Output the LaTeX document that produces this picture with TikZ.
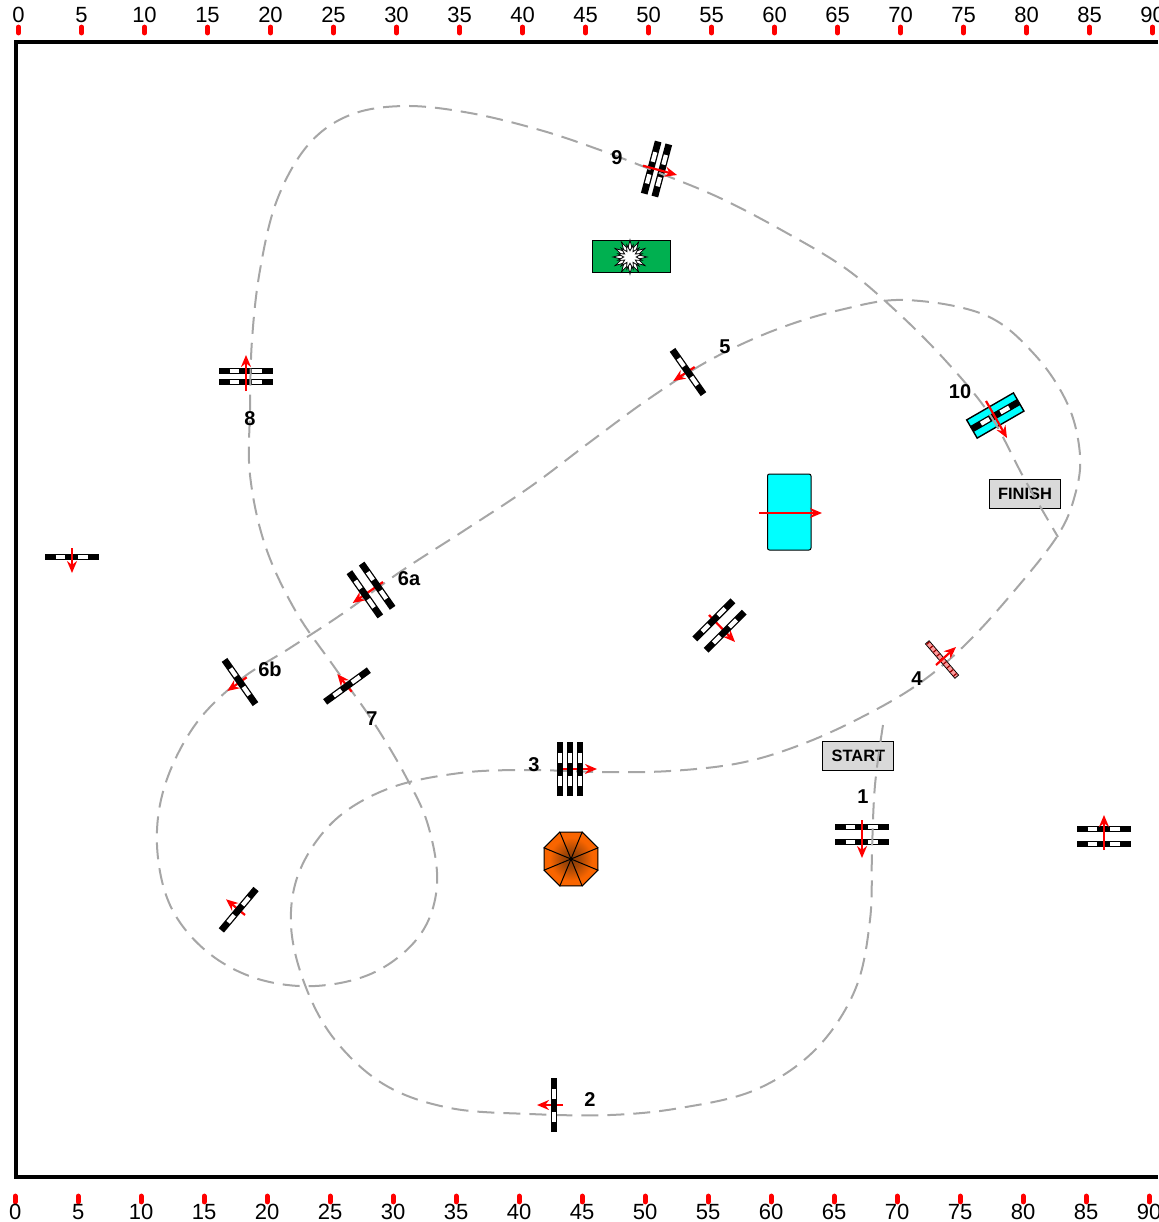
\documentclass[tikz,border=0pt]{standalone}
\usepackage{fontspec}
\setmainfont{Liberation Sans}
\usetikzlibrary{arrows.meta, shapes.geometric}
\definecolor{tracegray}{HTML}{A6A6A6}
\definecolor{boxgray}{HTML}{D9D9D9}
\definecolor{padgreen}{HTML}{00B050}
\definecolor{gatepink}{HTML}{FF9999}
\definecolor{gatecyan}{HTML}{00FFFF}
\definecolor{conedark}{HTML}{803A08}
\definecolor{coneorange}{HTML}{F96500}
\pgfdeclareradialshading{coneshade}{\pgfpoint{0bp}{0bp}}{color(0bp)=(conedark); color(8bp)=(conedark!70!coneorange); color(20bp)=(coneorange); color(50bp)=(coneorange)}
\tikzset{
  rod/.style={line width=3.4pt,black},
  hole/.style={line width=2.1pt,white},
  way/.style={draw=red,line width=1.1pt,-{Stealth[length=6pt,width=5pt]}},
  trace/.style={draw=tracegray,line width=1pt,dash pattern=on 8.5pt off 4.5pt},
  tag/.style={font=\bfseries\fontsize{10}{12}\selectfont,inner sep=0pt},
  sign/.style={draw=black,line width=0.5pt,fill=boxgray,minimum width=35.5pt,minimum height=14.5pt,inner sep=0pt,font=\bfseries\fontsize{8.2}{10}\selectfont},
  num/.style={font=\fontsize{11}{13}\selectfont,inner sep=0pt},
  tick/.style={draw=red,line width=2.4pt,line cap=round},
  petal/.style={star,inner sep=0pt,draw=black,line width=0.4pt,fill=white},
}
% rods of one gate : x, y, angle, offsets
\newcommand{\gaterods}[4]{
  \begin{scope}[shift={(#1,#2)},rotate=#3]
  \foreach \off in {#4} {
    \draw[rod] (-27,\off) -- (27,\off);
    \draw[hole] (-16.5,\off) -- (-7,\off) (6,\off) -- (16,\off);
  }
  \end{scope}
}
\begin{document}
\begin{tikzpicture}[x=0.5pt,y=-0.5pt]
\useasboundingbox (0,0) rectangle (1158,1222);
% Cadre
\draw[line width=2pt] (1158,42) -- (16,42) -- (16,1177) -- (1158,1177);
% Graduations
\foreach \k in {0,5,...,90} {
  \pgfmathsetmacro{\xt}{18.5+12.6*\k}
  \pgfmathsetmacro{\xb}{15.2+12.6*\k}
  \draw[tick] (\xt,27) -- (\xt,33);
  \draw[tick] (\xb,1196) -- (\xb,1202);
  \node[num] (top\k) at (\xt,15) {\k};
  \node[num] (bot\k) at (\xb,1212) {\k};
}
% Decor
\node[sign] (finish) at (1025,494) {FINISH};
\node[sign] (start) at (858.4,756.2) {START};
\draw[fill=gatecyan,line width=0.5pt,rounded corners=1pt] (767.5,474) rectangle (811,550);
\draw[fill=padgreen,line width=0.5pt] (592,240) rectangle (670,272);
\node[petal,star points=12,star point ratio=2,minimum size=17pt] (flower) at (630,257) {};
\node[petal,star points=12,star point ratio=2,minimum size=12.5pt,rotate=15] (flowerin) at (630,257) {};
\shade[shading=coneshade] (571,859) ++(27,11.2) -- ++(-15.8,15.8) -- ++(-22.4,0) -- ++(-15.8,-15.8) -- ++(0,-22.4) -- ++(15.8,-15.8) -- ++(22.4,0) -- ++(15.8,15.8) -- cycle;
\foreach \a in {0,45,...,315}
  \draw[line width=0.5pt] (571,859) -- +(\a+22.5:29.2) -- +(\a+67.5:29.2);
% Portes sous le trace
\begin{scope}[shift={(995.3,415.5)},rotate=30]
\draw[fill=gatecyan,line width=0.7pt] (-27,-10.5) rectangle (27,10.5);
\end{scope}
\gaterods{995.3}{415.5}{30}{0}
\gaterods{862}{834.5}{0}{-7.5,7.5}
\gaterods{246}{376.5}{0}{-5.5,5.5}
\gaterods{1104}{836.5}{0}{-7.5,7.5}
\gaterods{656.5}{169}{75}{-5.5,5.5}
\gaterods{72}{557}{0}{0}
% Trace
\draw[trace] plot[smooth,tension=0.6] coordinates {(883,725) (875,785) (872,850) (870,920) (855,990) (815,1050) (755,1090) (680,1108) (610,1115) (530,1114) (450,1108) (385,1085) (335,1040) (305,985) (291,925) (300,870) (335,820) (390,788) (460,773) (528,770) (600,772) (670,771) (740,763) (800,745) (860,718) (917,685) (965,645) (1015,590) (1058,535) (1075,495) (1080,455) (1068,405) (1035,355) (985,315) (905,300) (840,310) (775,330) (710,360) (650,398) (590,442) (530,487) (465,530) (400,572) (345,612) (290,648) (240,680) (195,725) (165,785) (157,845) (170,905) (205,950) (255,978) (315,986) (375,972) (420,935) (437,885) (428,825) (405,775) (372,720) (335,668) (295,610) (265,545) (250,475) (250,410) (252,340) (260,270) (277,200) (308,145) (350,115) (405,106) (470,113) (540,130) (600,150) (657,172) (720,198) (785,232) (845,268) (895,310) (945,360) (990,415) (1025,480) (1058,537)};
% Fleches sous les portes
\draw[way] (557,769) -- (597,769);
\draw[way] (563,1105) -- (537,1105);
\draw[way] (694.7,367) -- (673.3,381);
\draw[way] (383,582) -- (352.7,603);
\draw[way] (246.7,677.3) -- (227.3,691);
\draw[way] (351.7,691.7) -- (337.3,674);
\draw[way] (245,915) -- (226,899.3);
\draw[way] (709,615) -- (735,642);
% Portes sur le trace
\gaterods{570}{769}{90}{-10,0,10}
\gaterods{554}{1105}{90}{0}
\gaterods{688}{372}{-55}{0}
\gaterods{371}{590}{-55}{-7.5,7.5}
\gaterods{240}{682}{-55}{0}
\gaterods{347}{686}{36}{0}
\gaterods{238.7}{909.7}{50}{0}
\gaterods{719.5}{625.5}{45}{-8,8}
% Porte rose
\draw[line width=2.8pt] (927,642) -- (957,677);
\draw[gatepink,line width=1.9pt] (927.6,642.7) -- (956.4,676.3);
\draw[red!60!black,line width=1.9pt,dash pattern=on 0.6pt off 2pt] (927.6,642.7) -- (956.4,676.3);
% Fleches sur les portes
\draw[way] (862,820) -- (862,858);
\draw[way] (246,391) -- (246,355);
\draw[way] (1104,850) -- (1104,815);
\draw[way] (72,548) -- (72,573);
\draw[way] (643,165.7) -- (677,175);
\draw[way] (986,401) -- (1007,438);
\draw[way] (936,665) -- (956,647);
\draw[way] (759,513) -- (822,513);
% Numeros
\node[tag] (n1) at (863,797) {1};
\node[tag] (n2) at (590,1100) {2};
\node[tag] (n3) at (534,765) {3};
\node[tag] (n4) at (917,679) {4};
\node[tag] (n5) at (725,347) {5};
\node[tag] (n6a) at (409,579) {6a};
\node[tag] (n6b) at (270,669) {6b};
\node[tag] (n7) at (372,719) {7};
\node[tag] (n8) at (250,419) {8};
\node[tag] (n9) at (617,158) {9};
\node[tag] (n10) at (960,392) {10};
\end{tikzpicture}
\end{document}
